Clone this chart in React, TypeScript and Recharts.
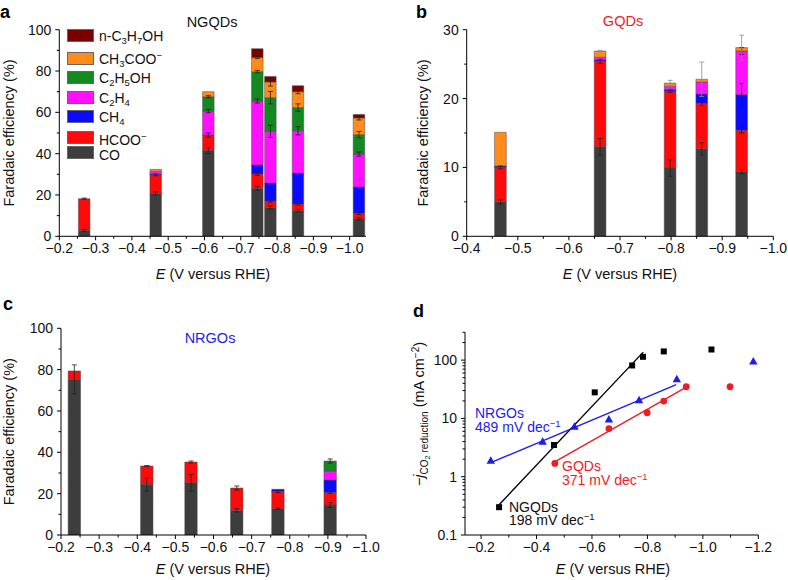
import React from 'react';
import { BarChart, ComposedChart, Bar, XAxis, YAxis, Scatter, Line, Legend } from 'recharts';

const FONT = '"Liberation Sans", Arial, Helvetica, sans-serif';

// stacking order, bottom to top
const products = ['CO', 'HCOO', 'CH4', 'C2H4', 'C2H5OH', 'CH3COO', 'C3H7OH'];
const productColors: Record<string, string> = {
  CO: '#3d3d3d',
  HCOO: '#ff0a0a',
  CH4: '#0a0aff',
  C2H4: '#ff10ff',
  C2H5OH: '#138a1f',
  CH3COO: '#ff8c1a',
  C3H7OH: '#7a0000',
};

// ---- panel a: NGQDs ----
const ngqdE = [-0.268, -0.465, -0.61, -0.745, -0.781, -0.857, -1.025];
const ngqdCO = [2.8, 20.8, 41.5, 23.2, 14.0, 12.4, 8.4];
const ngqdHCOO = [15.4, 9.0, 7.5, 7.0, 3.1, 3.2, 2.6];
const ngqdCH4 = [0, 0.3, 0, 4.3, 8.7, 15.0, 12.9];
const ngqdC2H4 = [0, 1.4, 11.6, 31.0, 25.0, 20.5, 15.9];
const ngqdC2H5OH = [0, 0, 7.0, 14.2, 16.3, 11.2, 9.4];
const ngqdCH3COO = [0, 0.9, 2.4, 6.8, 7.6, 7.7, 8.1];
const ngqdC3H7OH = [0, 0, 0, 4.3, 2.7, 2.9, 1.7];
const ngqdCOErr = [0.5, 0.8, 1.5, 1.0, 0.8, 0.6, 0.5];
const ngqdHCOOErr = [0.3, 0.5, 1.0, 0.8, 0.6, 0.5, 0.5];
const ngqdC2H4Err = [0, 0, 0.8, 1.0, 3.0, 2.0, 1.0];
const ngqdC2H5OHErr = [0, 0, 0.5, 0.6, 3.0, 1.8, 1.5];
const ngqdCH3COOErr = [0, 0, 0, 0.5, 2.0, 1.0, 1.0];

// ---- panel b: GQDs ----
const gqdE = [-0.466, -0.661, -0.798, -0.86, -0.938];
const gqdCO = [5.0, 13.0, 9.9, 12.7, 9.4];
const gqdHCOO = [5.0, 12.4, 11.2, 6.6, 6.0];
const gqdCH4 = [0.2, 0.2, 0.2, 1.35, 5.2];
const gqdC2H4 = [0, 0.4, 0.5, 1.75, 6.3];
const gqdCH3COO = [4.9, 0.9, 0.45, 0.4, 0.5];
const gqdCOErr = [0.3, 1.2, 1.2, 0.9, 0.3];
const gqdHCOOErr = [0.2, 0.3, 0.2, 0.3, 0.4];
const gqdCH4Err = [0, 0, 0, 0, 1.6];
const gqdC2H4Err = [0, 0, 0, 0, 0.5];
const gqdCH3COOErr = [0, 0.1, 0.4, 2.5, 1.8];

// ---- panel c: NRGOs ----
const nrgoE = [-0.236, -0.426, -0.542, -0.662, -0.77, -0.907];
const nrgoCO = [75.3, 24.5, 25.3, 11.9, 12.7, 14.5];
const nrgoHCOO = [4.1, 8.9, 10.0, 10.8, 8.3, 6.1];
const nrgoCH4 = [0, 0, 0, 0, 1.1, 6.0];
const nrgoC2H4 = [0, 0, 0, 0, 0, 4.4];
const nrgoC2H5OH = [0, 0, 0, 0, 0, 4.8];
const nrgoCOErr = [7.0, 3.3, 4.0, 0.8, 0.3, 1.2];
const nrgoHCOOErr = [0, 0.2, 0.5, 1.0, 0.5, 0.5];
const nrgoC2H5OHErr = [0, 0, 0, 0, 0, 1.0];

// ---- panel d: partial current density (log) ----
const ngqdPolE = [-0.265, -0.463, -0.61, -0.745, -0.784, -0.859, -1.031];
const ngqdJ = [0.3, 3.5, 28, 81, 114, 141, 152];
const ngqdFitE = [-0.265, -0.785];
const ngqdFitJ = [0.33, 137];
const nrgoPolE = [-0.235, -0.422, -0.537, -0.661, -0.77, -0.906, -1.182];
const nrgoJ = [1.88, 3.98, 7.2, 9.6, 20.4, 47, 95];
const nrgoFitE = [-0.235, -0.904];
const nrgoFitJ = [1.74, 38];
const gqdPolE = [-0.466, -0.661, -0.799, -0.859, -0.94, -1.098];
const gqdJ = [1.69, 6.7, 12.5, 19.8, 34.9, 34.9];
const gqdFitE = [-0.456, -0.939];
const gqdFitJ = [1.69, 34];

// ---- ticks ----
const feXTicks = [-0.2, -0.25, -0.3, -0.35, -0.4, -0.45, -0.5, -0.55, -0.6, -0.65, -0.7, -0.75, -0.8, -0.85, -0.9, -0.95, -1.0];
const gqdXTicks = [-0.4, -0.45, -0.5, -0.55, -0.6, -0.65, -0.7, -0.75, -0.8, -0.85, -0.9, -0.95, -1.0];
const feYTicks = [0, 10, 20, 30, 40, 50, 60, 70, 80, 90, 100];
const gqdYTicks = [0, 5, 10, 15, 20, 25, 30];
const jXTicks = [-0.2, -0.3, -0.4, -0.5, -0.6, -0.7, -0.8, -0.9, -1.0, -1.1, -1.2];
const jYTicks = [
  0.1, 0.2, 0.3, 0.4, 0.5, 0.6, 0.7, 0.8, 0.9,
  1, 2, 3, 4, 5, 6, 7, 8, 9,
  10, 20, 30, 40, 50, 60, 70, 80, 90,
  100, 200, 300,
];

const legendLabels: Record<string, React.ReactNode> = {
  C3H7OH: <>n-C<Sub>3</Sub>H<Sub>7</Sub>OH</>,
  CH3COO: <>CH<Sub>3</Sub>COO<Sup>−</Sup></>,
  C2H5OH: <>C<Sub>2</Sub>H<Sub>5</Sub>OH</>,
  C2H4: <>C<Sub>2</Sub>H<Sub>4</Sub></>,
  CH4: <>CH<Sub>4</Sub></>,
  HCOO: <>HCOO<Sup>−</Sup></>,
  CO: <>CO</>,
};
const legendOrder = ['C3H7OH', 'CH3COO', 'C2H5OH', 'C2H4', 'CH4', 'HCOO', 'CO'];

function Sub({ children }: { children: React.ReactNode }) {
  return <span style={{ fontSize: 9.5, verticalAlign: '-3px', lineHeight: 0 }}>{children}</span>;
}
function Sup({ children }: { children: React.ReactNode }) {
  return <span style={{ fontSize: 9.5, verticalAlign: '5px', lineHeight: 0 }}>{children}</span>;
}

function stackRows(E: number[], vals: Record<string, number[]>, errs: Record<string, number[]>) {
  return E.map((e, i) => {
    const r: any = { E: e };
    Object.keys(vals).forEach((k) => (r[k] = vals[k][i]));
    Object.keys(errs).forEach((k) => (r[k + 'Err'] = errs[k][i]));
    return r;
  });
}
const pairRows = (E: number[], J: number[]) => E.map((e, i) => ({ E: e, j: J[i] }));

const ngqdRows = stackRows(
  ngqdE,
  { CO: ngqdCO, HCOO: ngqdHCOO, CH4: ngqdCH4, C2H4: ngqdC2H4, C2H5OH: ngqdC2H5OH, CH3COO: ngqdCH3COO, C3H7OH: ngqdC3H7OH },
  { CO: ngqdCOErr, HCOO: ngqdHCOOErr, C2H4: ngqdC2H4Err, C2H5OH: ngqdC2H5OHErr, CH3COO: ngqdCH3COOErr }
);
const gqdRows = stackRows(
  gqdE,
  { CO: gqdCO, HCOO: gqdHCOO, CH4: gqdCH4, C2H4: gqdC2H4, CH3COO: gqdCH3COO },
  { CO: gqdCOErr, HCOO: gqdHCOOErr, CH4: gqdCH4Err, C2H4: gqdC2H4Err, CH3COO: gqdCH3COOErr }
);
const nrgoRows = stackRows(
  nrgoE,
  { CO: nrgoCO, HCOO: nrgoHCOO, CH4: nrgoCH4, C2H4: nrgoC2H4, C2H5OH: nrgoC2H5OH },
  { CO: nrgoCOErr, HCOO: nrgoHCOOErr, C2H5OH: nrgoC2H5OHErr }
);

const fmtE = (v: number) => (v < 0 ? '−' : '') + Math.abs(v).toFixed(1);
const isTenth = (v: number) => Math.round(Math.abs(v) * 100) % 10 === 0;
const isFifth = (v: number) => Math.round(Math.abs(v) * 10) % 2 === 0;
const isDecade = (v: number) => Math.abs(Math.log10(v) - Math.round(Math.log10(v))) < 1e-6;

function XTick(props: any) {
  const { x, y, payload, major, fmt } = props;
  const m = major(payload.value);
  return (
    <g>
      <line x1={x} x2={x} y1={y} y2={y + (m ? 4 : 2.5)} stroke="#000" strokeWidth={1} />
      {m && (
        <text x={x} y={y + 17} textAnchor="middle" fontSize={14} fill="#111" fontFamily={FONT}>
          {fmt(payload.value)}
        </text>
      )}
    </g>
  );
}

function YTick(props: any) {
  const { x, y, payload, major, fmt } = props;
  const m = major(payload.value);
  return (
    <g>
      <line x1={x} x2={x - (m ? 4 : 2.5)} y1={y} y2={y} stroke="#000" strokeWidth={1} />
      {m && (
        <text x={x - 8} y={y + 5} textAnchor="end" fontSize={14} fill="#111" fontFamily={FONT}>
          {fmt(payload.value)}
        </text>
      )}
    </g>
  );
}

// error bar drawn on top of a stacked segment, sized through the segment's own px/value ratio
const errShape = (k: string, color: string) => (props: any) => {
  const { x, y, width, height, payload } = props;
  const v = payload ? payload[k] : 0;
  const e = payload ? payload[k + 'Err'] : 0;
  if (!e || !v || !height) return <g />;
  const d = (e * height) / v;
  const cx = x + width / 2;
  return (
    <g stroke={color} strokeWidth={0.8} fill="none">
      <line x1={cx} x2={cx} y1={y - d} y2={y + d} />
      <line x1={cx - 2.5} x2={cx + 2.5} y1={y - d} y2={y - d} />
      <line x1={cx - 2.5} x2={cx + 2.5} y1={y + d} y2={y + d} />
    </g>
  );
};

function FeLegend() {
  const tops = [0, 23, 42, 62, 81, 102, 117];
  return (
    <div style={{ position: 'relative', width: 110, height: 132, fontFamily: FONT }}>
      {legendOrder.map((k, i) => (
        <div key={k} style={{ position: 'absolute', left: 0, top: tops[i], display: 'flex', alignItems: 'center', height: 13 }}>
          <div style={{ width: 27, height: 13, background: productColors[k], border: '1px solid #666', boxSizing: 'border-box' }} />
          <span style={{ marginLeft: 5, fontSize: 14, lineHeight: '14px', whiteSpace: 'nowrap', color: '#111', position: 'relative', top: k === 'HCOO' || k === 'CO' ? 2 : 0 }}>
            {legendLabels[k]}
          </span>
        </div>
      ))}
    </div>
  );
}

type StackProps = {
  rows: any[];
  keys: string[];
  xDomain: [number, number];
  xTicks: number[];
  yDomain: [number, number];
  yTicks: number[];
  yMajor: number;
  margin: { top: number; right: number; bottom: number; left: number };
  yWidth: number;
  barSize: number;
  errColors?: Record<string, string>;
  children?: React.ReactNode;
};

function StackPanel(p: StackProps) {
  return (
    <BarChart width={394} height={290} data={p.rows} margin={p.margin} barGap={-p.barSize}>
      <XAxis
        dataKey="E"
        type="number"
        domain={p.xDomain}
        reversed
        allowDataOverflow
        ticks={p.xTicks}
        interval={0}
        tickSize={0}
        tickMargin={0}
        tickLine={false}
        height={30}
        axisLine={{ stroke: '#000', strokeWidth: 1 }}
        tick={(t: any) => <XTick {...t} major={isTenth} fmt={fmtE} />}
      />
      <YAxis
        type="number"
        domain={p.yDomain}
        ticks={p.yTicks}
        interval={0}
        allowDataOverflow
        width={p.yWidth}
        tickSize={0}
        tickMargin={0}
        tickLine={false}
        axisLine={{ stroke: '#000', strokeWidth: 1 }}
        tick={(t: any) => <YTick {...t} major={(v: number) => v % p.yMajor === 0} fmt={String} />}
      />
      {p.keys.map((k) => (
        <Bar
          key={k}
          dataKey={k}
          stackId="s"
          fill={productColors[k]}
          stroke="#4a4a4a"
          strokeWidth={0.5}
          barSize={p.barSize}
          isAnimationActive={false}
        />
      ))}
      {p.keys.map((k) => (
        <Bar
          key={k + '-err'}
          dataKey={k}
          stackId="e"
          fill="none"
          barSize={p.barSize}
          legendType="none"
          isAnimationActive={false}
          shape={errShape(k, (p.errColors && p.errColors[k]) || '#222')}
        />
      ))}
      {p.children}
    </BarChart>
  );
}

const square = (props: any) => <rect x={props.cx - 3} y={props.cy - 3} width={6} height={6} fill="#000" />;
const triangle = (props: any) => (
  <polygon points={`${props.cx},${props.cy - 4.5} ${props.cx - 4.2},${props.cy + 3} ${props.cx + 4.2},${props.cy + 3}`} fill="#1c1cf0" />
);
const circle = (props: any) => <circle cx={props.cx} cy={props.cy} r={3.4} fill="#ee1c25" />;

function TafelPanel() {
  return (
    <ComposedChart width={394} height={290} margin={{ top: 42.3, right: 29.7, bottom: 15, left: 0 }}>
      <XAxis
        dataKey="E"
        type="number"
        domain={[-1.2, -0.142]}
        reversed
        allowDataOverflow
        ticks={jXTicks}
        interval={0}
        tickSize={0}
        tickMargin={0}
        tickLine={false}
        height={30}
        axisLine={{ stroke: '#000', strokeWidth: 1 }}
        tick={(t: any) => <XTick {...t} major={isFifth} fmt={fmtE} />}
      />
      <YAxis
        dataKey="j"
        type="number"
        scale="log"
        domain={[0.1, 300]}
        ticks={jYTicks}
        interval={0}
        allowDataOverflow
        width={71}
        tickSize={0}
        tickMargin={0}
        tickLine={false}
        axisLine={{ stroke: '#000', strokeWidth: 1 }}
        tick={(t: any) => <YTick {...t} major={isDecade} fmt={String} />}
      />
      <Line data={pairRows(ngqdFitE, ngqdFitJ)} dataKey="j" stroke="#000" strokeWidth={1.4} dot={false} isAnimationActive={false} />
      <Line data={pairRows(nrgoFitE, nrgoFitJ)} dataKey="j" stroke="#1c1cf0" strokeWidth={1.4} dot={false} isAnimationActive={false} />
      <Line data={pairRows(gqdFitE, gqdFitJ)} dataKey="j" stroke="#ee1c25" strokeWidth={1.4} dot={false} isAnimationActive={false} />
      <Scatter data={pairRows(ngqdPolE, ngqdJ)} shape={square} isAnimationActive={false} />
      <Scatter data={pairRows(nrgoPolE, nrgoJ)} shape={triangle} isAnimationActive={false} />
      <Scatter data={pairRows(gqdPolE, gqdJ)} shape={circle} isAnimationActive={false} />
    </ComposedChart>
  );
}

function XLabel({ x, y }: { x: number; y: number }) {
  return (
    <text x={x} y={y} textAnchor="middle" fontSize={14.5} fill="#111">
      <tspan fontStyle="italic">E</tspan> (V versus RHE)
    </text>
  );
}
function FeLabel({ x, y }: { x: number; y: number }) {
  return (
    <text transform={`translate(${x},${y}) rotate(-90)`} textAnchor="middle" fontSize={14.5} fill="#111">
      Faradaic efficiency (%)
    </text>
  );
}
function Slope({ x, y, color, name, value }: { x: number; y: number; color: string; name: string; value: string }) {
  return (
    <text x={x} y={y} fontSize={14} fill={color}>
      <tspan x={x}>{name}</tspan>
      <tspan x={x} dy={13.5}>{value} mV dec</tspan>
      <tspan fontSize={9.5} dy={-5}>−1</tspan>
    </text>
  );
}

export default function App() {
  return (
    <div style={{ position: 'absolute', left: 0, top: 0, width: 788, height: 580, background: '#fff', fontFamily: FONT }}>
      <div style={{ position: 'absolute', left: 0, top: 0 }}>
        <StackPanel
          rows={ngqdRows}
          keys={products}
          xDomain={[-1.045, -0.2]}
          xTicks={feXTicks}
          yDomain={[0, 100]}
          yTicks={feYTicks}
          yMajor={20}
          margin={{ top: 29.7, right: 28, bottom: 23.7, left: 0 }}
          yWidth={59.3}
          barSize={11.5}
        >
          <Legend
            layout="vertical"
            align="center"
            verticalAlign="middle"
            wrapperStyle={{ left: 67, top: 29, width: 110, height: 132 }}
            content={() => <FeLegend />}
          />
        </StackPanel>
      </div>
      <div style={{ position: 'absolute', left: 394, top: 0 }}>
        <StackPanel
          rows={gqdRows}
          keys={['CO', 'HCOO', 'CH4', 'C2H4', 'CH3COO']}
          xDomain={[-1.0, -0.4]}
          xTicks={gqdXTicks}
          yDomain={[0, 30]}
          yTicks={gqdYTicks}
          yMajor={10}
          margin={{ top: 29.7, right: 14.7, bottom: 23.7, left: 0 }}
          yWidth={72.7}
          barSize={11.7}
          errColors={{ CH3COO: '#8a8a8a' }}
        />
      </div>
      <div style={{ position: 'absolute', left: 0, top: 290 }}>
        <StackPanel
          rows={nrgoRows}
          keys={['CO', 'HCOO', 'CH4', 'C2H4', 'C2H5OH']}
          xDomain={[-1.0, -0.2]}
          xTicks={feXTicks}
          yDomain={[0, 100]}
          yTicks={feYTicks}
          yMajor={20}
          margin={{ top: 38.3, right: 28, bottom: 15, left: 0 }}
          yWidth={61}
          barSize={12.4}
        />
      </div>
      <div style={{ position: 'absolute', left: 394, top: 290 }}>
        <TafelPanel />
      </div>

      <svg width={788} height={580} style={{ position: 'absolute', left: 0, top: 0, pointerEvents: 'none' }} fontFamily={FONT}>
        <g fontSize={18} fontWeight="bold" fill="#000">
          <text x={0} y={18}>a</text>
          <text x={416} y={18}>b</text>
          <text x={3} y={310}>c</text>
          <text x={413} y={317}>d</text>
        </g>
        <text x={212} y={26.5} textAnchor="middle" fontSize={14.5} fill="#111">NGQDs</text>
        <text x={623} y={26} textAnchor="middle" fontSize={14.5} fill="#ee1c25">GQDs</text>
        <text x={210} y={343} textAnchor="middle" fontSize={14.5} fill="#1c1cf0">NRGOs</text>

        <FeLabel x={14} y={133} />
        <FeLabel x={428} y={133} />
        <FeLabel x={14} y={431.7} />
        <text transform="translate(424,414) rotate(-90)" textAnchor="middle" fontSize={14.5} fill="#111">
          <tspan>−</tspan>
          <tspan fontStyle="italic">j</tspan>
          <tspan fontSize={10} dy={4}>CO</tspan>
          <tspan fontSize={7.5} dy={2}>2</tspan>
          <tspan fontSize={10} dy={-2}> reduction</tspan>
          <tspan dy={-4}> (mA cm</tspan>
          <tspan fontSize={10} dy={-5}>−2</tspan>
          <tspan dy={5}>)</tspan>
        </text>

        <XLabel x={213} y={279} />
        <XLabel x={620} y={279} />
        <XLabel x={213} y={574} />
        <XLabel x={613} y={574} />

        <Slope x={475} y={418} color="#1c1cf0" name="NRGOs" value="489" />
        <Slope x={562} y={471} color="#ee1c25" name="GQDs" value="371" />
        <Slope x={509} y={511.5} color="#111" name="NGQDs" value="198" />
      </svg>
    </div>
  );
}
